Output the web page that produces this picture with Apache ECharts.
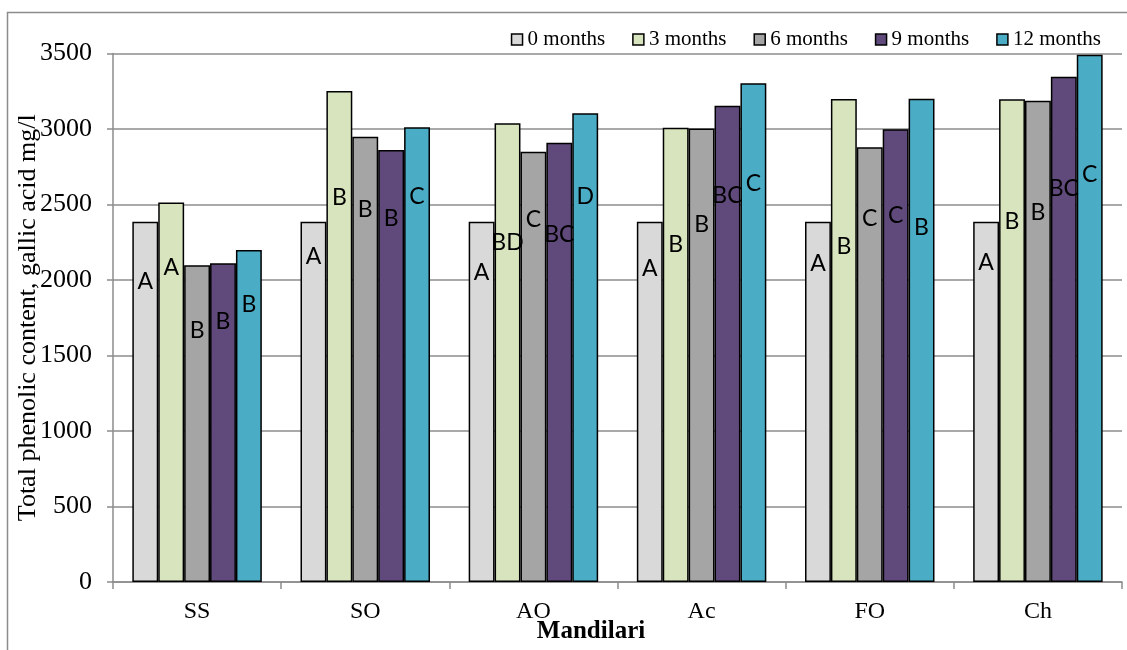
<!DOCTYPE html>
<html>
<head>
<meta charset="utf-8">
<script src="https://cdn.jsdelivr.net/npm/echarts@6/dist/echarts.min.js"></script>
<style>
  html, body { margin: 0; padding: 0; background: #fff; }
  #chart { width: 1127px; height: 650px; }
</style>
</head>
<body>
<div id="chart"></div>
<script>
// Treatments (x categories) and storage times (series)
const categories = ['SS', 'SO', 'AO', 'Ac', 'FO', 'Ch'];
const seriesNames = ['0 months', '3 months', '6 months', '9 months', '12 months'];
const yTicks = [0, 500, 1000, 1500, 2000, 2500, 3000, 3500];

// Total phenolic content (gallic acid mg/l) per treatment
const months0  = [2385, 2385, 2385, 2385, 2385, 2385];
const months3  = [2513, 3252, 3038, 3009, 3199, 3197];
const months6  = [2097, 2949, 2850, 3004, 2879, 3187];
const months9  = [2111, 2861, 2909, 3154, 2998, 3346];
const months12 = [2199, 3011, 3104, 3303, 3201, 3491];

// Significance letters written on each bar
const letters0  = ['A', 'A', 'A', 'A', 'A', 'A'];
const letters3  = ['A', 'B', 'BD', 'B', 'B', 'B'];
const letters6  = ['B', 'B', 'C', 'B', 'C', 'B'];
const letters9  = ['B', 'B', 'BC', 'BC', 'C', 'BC'];
const letters12 = ['B', 'C', 'D', 'C', 'B', 'C'];

const values = [months0, months3, months6, months9, months12];
const letters = [letters0, letters3, letters6, letters9, letters12];

// Layout: how far (px) below each bar top its letter sits
const letterDrop = [
  [60, 35, 51, 47, 42, 41],
  [65, 107, 119, 117, 148, 122],
  [65, 73, 68, 96, 71, 112],
  [58, 69, 92, 90, 86, 112],
  [55, 69, 83, 100, 129, 120]
];

const colors = ['#d9d9d9', '#d7e4bd', '#a5a5a5', '#604a7b', '#4bacc6'];
const serif = "'Liberation Serif', 'Times New Roman', serif";
const gridGray = '#8c8c8c';

const chart = echarts.init(document.getElementById('chart'), null, { renderer: 'canvas' });

const series = seriesNames.map((name, s) => ({
  name: name,
  type: 'bar',
  barGap: '0%',
  barCategoryGap: '23%',
  itemStyle: { color: colors[s], borderColor: '#000', borderWidth: 1.5 },
  emphasis: { disabled: true },
  data: values[s].map((v, i) => ({
    value: v,
    label: {
      show: true,
      formatter: letters[s][i],
      position: ['50%', letterDrop[s][i]],
      align: 'center',
      verticalAlign: 'middle',
      color: '#000',
      fontFamily: "Lato, 'Noto Sans', sans-serif",
      fontSize: 23
    }
  }))
}));

chart.setOption({
  animation: false,
  backgroundColor: '#fff',
  color: colors,
  graphic: [{
    type: 'rect',
    shape: { x: 7.5, y: 12.5, width: 1300, height: 800 },
    style: { fill: 'none', stroke: gridGray, lineWidth: 1.5 },
    silent: true,
    z: -10
  }],
  legend: {
    data: seriesNames,
    right: 21,
    top: 24,
    itemWidth: 11,
    itemHeight: 11,
    itemGap: 27,
    icon: 'rect',
    itemStyle: { borderColor: '#000', borderWidth: 1.5 },
    textStyle: { fontFamily: serif, fontSize: 21, color: '#000', padding: [0, 0, 0, 0] }
  },
  grid: { left: 113, right: 5, top: 53.5, bottom: 68, containLabel: false, outerBoundsMode: 'none' },
  xAxis: {
    type: 'category',
    data: categories,
    name: 'Mandilari',
    nameLocation: 'middle',
    nameGap: 37,
    nameMoveOverlap: false,
    nameTextStyle: { fontFamily: serif, fontSize: 25, fontWeight: 'bold', color: '#000', padding: [0, 53, 0, 0] },
    axisLine: { lineStyle: { color: gridGray, width: 1.5 } },
    axisTick: { show: true, length: 7, lineStyle: { color: gridGray, width: 1.5 } },
    axisLabel: { fontFamily: serif, fontSize: 24, color: '#000', margin: 18 }
  },
  yAxis: {
    type: 'value',
    min: yTicks[0],
    max: yTicks[yTicks.length - 1],
    interval: yTicks[1] - yTicks[0],
    name: 'Total phenolic content, gallic acid mg/l',
    nameLocation: 'middle',
    nameGap: 72,
    nameMoveOverlap: false,
    nameTextStyle: { fontFamily: serif, fontSize: 26, color: '#000' },
    axisLine: { show: true, lineStyle: { color: gridGray, width: 1.5 } },
    axisTick: { show: true, length: 6, lineStyle: { color: gridGray, width: 1.5 } },
    axisLabel: { fontFamily: serif, fontSize: 26, color: '#000', margin: 21, formatter: (v) => String(v) },
    splitLine: { lineStyle: { color: gridGray, width: 1.5 } }
  },
  series: series
});
</script>
</body>
</html>
